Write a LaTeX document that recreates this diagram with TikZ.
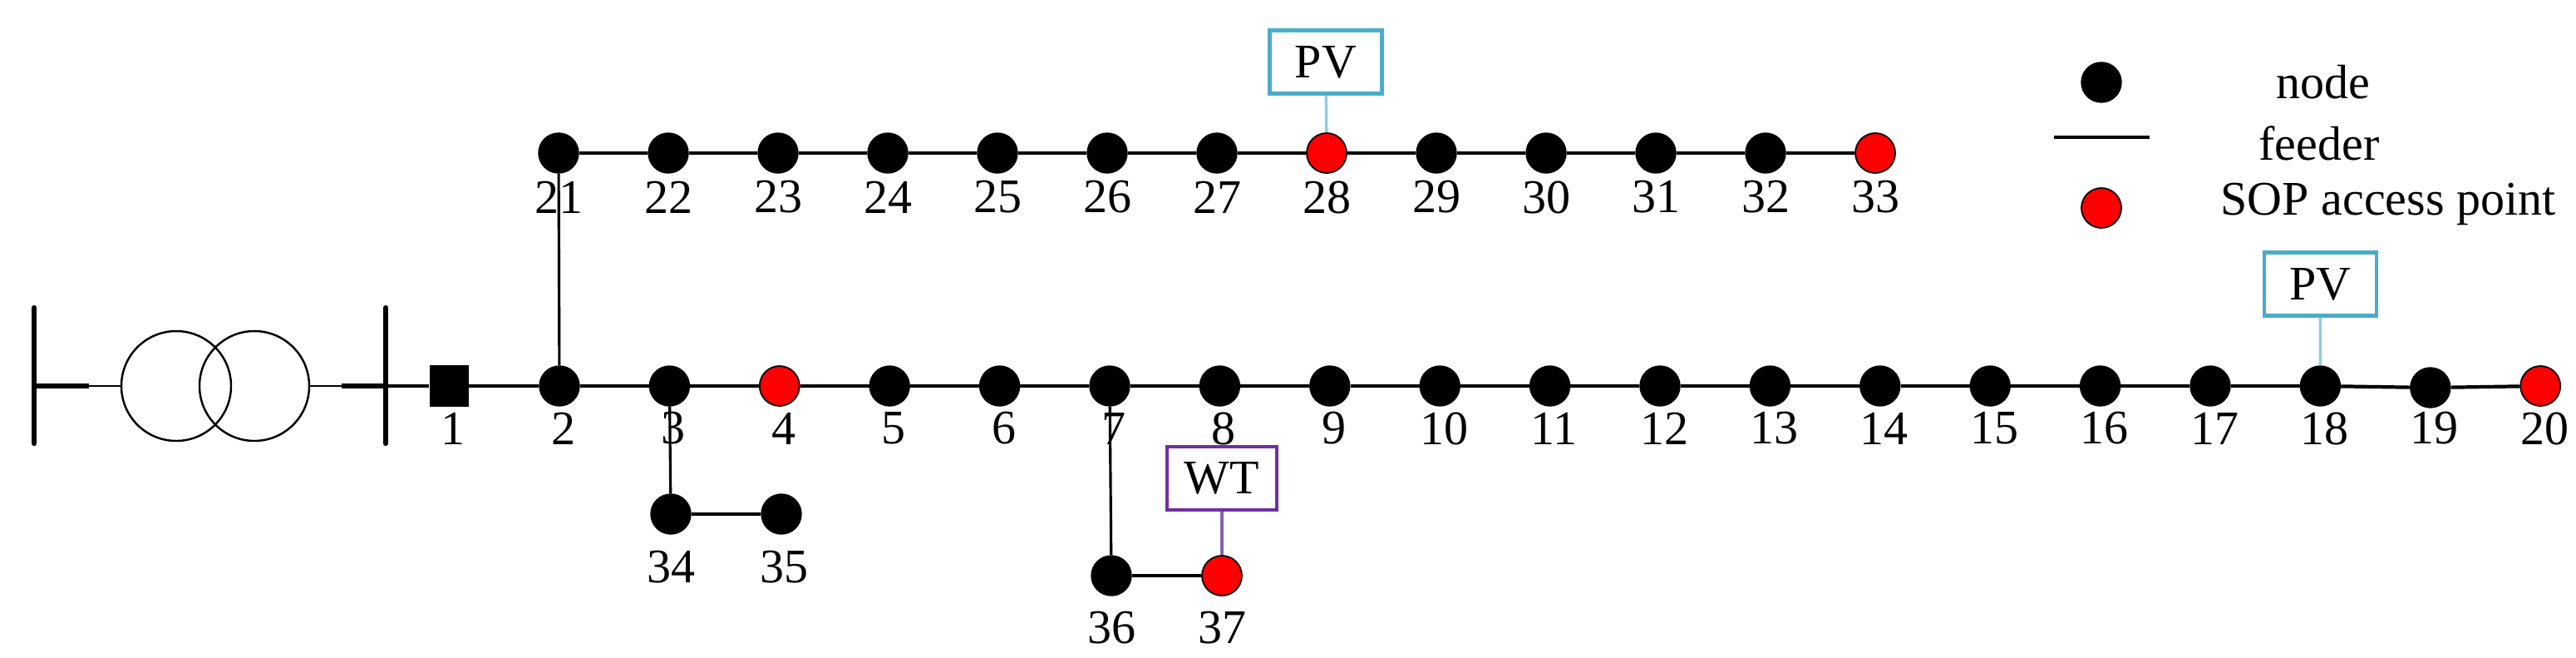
\documentclass[tikz,border=0pt]{standalone}
\usepackage{fontspec}
\setmainfont{Liberation Serif}
\begin{document}
\begin{tikzpicture}[x=1cm,y=1cm,
  bus/.style={circle,fill=black,draw=black,inner sep=0pt,minimum size=0.48cm},
  sop/.style={circle,fill=red,draw=black,line width=0.5pt,inner sep=0pt,minimum size=0.48cm},
  lbl/.style={font=\fontsize{16.5}{19}\selectfont},
  feeder/.style={line width=1.2pt},
  pvbox/.style={draw={rgb,255:red,75;green,172;blue,198},line width=1.3pt,minimum width=1.35cm,minimum height=0.76cm,font=\fontsize{16.5}{19}\selectfont},
  wtbox/.style={draw={rgb,255:red,112;green,48;blue,160},line width=1.3pt,minimum width=1.32cm,minimum height=0.76cm,font=\fontsize{16.5}{19}\selectfont}]
\useasboundingbox (0,0) rectangle (30.99,-7.90);
% transformer
\draw[line width=1.8pt,line cap=round] (0.41,-3.70) -- (0.41,-5.33);
\draw[line width=1.8pt,line cap=round] (4.64,-3.70) -- (4.64,-5.33);
\draw[line width=0.7pt] (2.12,-4.64) ellipse (0.66 and 0.66);
\draw[line width=0.7pt] (3.06,-4.64) ellipse (0.66 and 0.66);
\draw[line width=1.5pt] (0.41,-4.64) -- (1.07,-4.64);
\draw[line width=0.7pt] (1.07,-4.64) -- (1.46,-4.64);
\draw[line width=0.7pt] (3.72,-4.64) -- (4.11,-4.64);
\draw[line width=1.5pt] (4.11,-4.64) -- (4.64,-4.64);
\coordinate (busbar) at (4.64,-4.64);
% node 1
\node[fill=black,minimum width=0.47cm,minimum height=0.5cm,inner sep=0pt] (n1) at (5.40,-4.64) {};
\node[lbl] (l1) at (5.45,-5.15) {1};
% main nodes 2..20
\foreach \k in {2,...,20}{
  \pgfmathsetmacro{\xx}{6.73+1.324*(\k-2)}
  \ifnum\k=4 \node[sop] (n\k) at (\xx,-4.64) {};
  \else\ifnum\k=20 \node[sop] (n\k) at (\xx,-4.64) {};
  \else\ifnum\k=19 \node[bus] (n\k) at (\xx,-4.66) {};
  \else \node[bus] (n\k) at (\xx,-4.64) {};\fi\fi\fi
  \node[lbl] (l\k) at (\xx+0.05,-5.15) {\k};
}
% top row 21..33
\foreach \k in {21,...,33}{
  \pgfmathsetmacro{\xx}{6.72+1.32*(\k-21)}
  \ifnum\k=28 \node[sop] (n\k) at (\xx,-1.84) {};
  \else\ifnum\k=33 \node[sop] (n\k) at (\xx,-1.84) {};
  \else \node[bus] (n\k) at (\xx,-1.84) {};\fi\fi
  \node[lbl] (l\k) at (\xx,-2.37) {\k};
}
% laterals
\node[bus] (n34) at (8.07,-6.18) {}; \node[lbl] (l34) at (8.07,-6.82) {34};
\node[bus] (n35) at (9.40,-6.18) {}; \node[lbl] (l35) at (9.43,-6.82) {35};
\node[bus] (n36) at (13.37,-6.92) {}; \node[lbl] (l36) at (13.37,-7.55) {36};
\node[sop] (n37) at (14.70,-6.92) {}; \node[lbl] (l37) at (14.70,-7.55) {37};
% feeders
\draw[feeder] (busbar) -- (n1) -- (n2);
\foreach \a/\b in {2/3,3/4,4/5,5/6,6/7,7/8,8/9,9/10,10/11,11/12,12/13,13/14,14/15,15/16,16/17,17/18,18/19,19/20,
  21/22,22/23,23/24,24/25,25/26,26/27,27/28,28/29,29/30,30/31,31/32,32/33,34/35,36/37}
  \draw[feeder] (n\a) -- (n\b);
\draw[line width=0.9pt] (n21) -- (n2);
\draw[line width=0.9pt] (n3) -- (n34);
\draw[line width=0.9pt] (n7) -- (n36);
% PV / WT
\node[pvbox] (pv1) at (15.95,-0.745) {PV};
\node[pvbox] (pv2) at (27.915,-3.415) {PV};
\node[wtbox] (wt) at (14.70,-5.75) {WT};
\draw[line width=1pt,color={rgb,255:red,146;green,205;blue,220}] (pv1) -- (n28);
\draw[line width=1pt,color={rgb,255:red,146;green,205;blue,220}] (pv2) -- (n18);
\draw[line width=1pt,color={rgb,255:red,128;green,100;blue,162}] (wt) -- (n37);
% legend
\node[bus] (lg1) at (25.28,-0.99) {};
\coordinate (lf1) at (24.71,-1.65);
\coordinate (lf2) at (25.86,-1.65);
\draw[feeder] (lf1) -- (lf2);
\node[sop] (lg3) at (25.28,-2.50) {};
\node[lbl] (t1) at (27.95,-0.99) {node};
\node[lbl] (t2) at (27.90,-1.72) {feeder};
\node[lbl] (t3) at (28.73,-2.45) {SOP access point};
\end{tikzpicture}
\end{document}
